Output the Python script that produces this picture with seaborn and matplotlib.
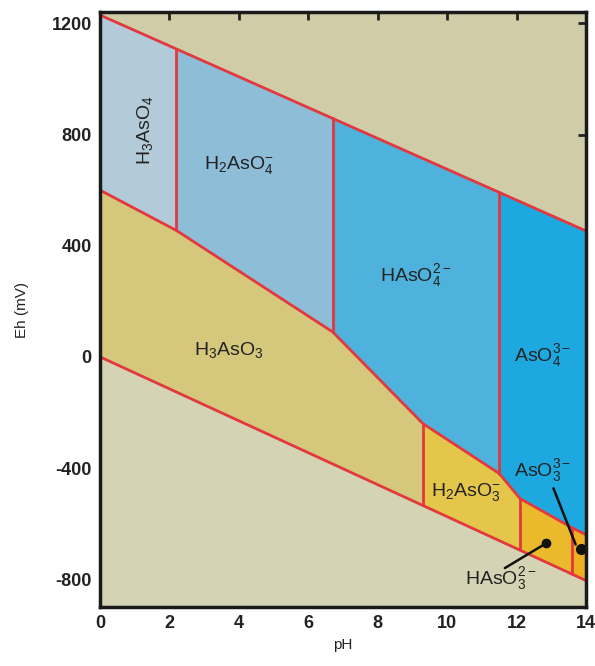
import numpy as np
import pandas as pd
import matplotlib
matplotlib.use("Agg")
import matplotlib.pyplot as plt
import seaborn as sns

# ---- data ----
ph_upper = [0.0, 14.0]
eh_upper = [1230.0, 453.0]          # O2/H2O line (mV)
ph_lower = [0.0, 14.0]
eh_lower = [0.0, -805.0]            # H2O/H2 line (mV)
ph_redox = [0.0, 2.2, 6.7, 9.3, 11.5, 12.1, 13.6, 14.0]
eh_redox = [600.0, 455.0, 90.0, -240.0, -420.0, -510.0, -615.0, -640.0]
as5_bounds = [0.0, 2.2, 6.7, 11.5, 14.0]
as5_species = ["H$_3$AsO$_4$", "H$_2$AsO$_4^{-}$", "HAsO$_4^{2-}$", "AsO$_4^{3-}$"]
as3_bounds = [0.0, 9.3, 12.1, 13.6, 14.0]
as3_species = ["H$_3$AsO$_3$", "H$_2$AsO$_3^{-}$", "HAsO$_3^{2-}$", "AsO$_3^{3-}$"]
xticks = [0, 2, 4, 6, 8, 10, 12, 14]
yticks = [-800, -400, 0, 400, 800, 1200]

as5_colors = ["#b3cbd8", "#8ebdd8", "#4eb2dd", "#1ea8e0"]
as3_colors = ["#d5c77c", "#e4c74a", "#ebba2c", "#eeb020"]
bg_top = "#cfcca7"
bg_bottom = "#d4d3b4"
red = "#e2383e"

sns.set_theme(style="ticks")
plt.rcParams["font.family"] = ["Liberation Sans", "DejaVu Sans"]
plt.rcParams["mathtext.fontset"] = "custom"
plt.rcParams["mathtext.rm"] = "Liberation Sans"
plt.rcParams["mathtext.it"] = "Liberation Sans"
plt.rcParams["mathtext.bf"] = "Liberation Sans:bold"
plt.rcParams["axes.unicode_minus"] = False

fig = plt.figure(figsize=(5.95, 6.66), dpi=100)
ax = fig.add_axes([0.168, 0.0886, 0.817, 0.893])
ax.set_facecolor(bg_top)


def seg(xs, ys, a, b):
    xs = np.asarray(xs); ys = np.asarray(ys)
    inner = [(x, y) for x, y in zip(xs, ys) if a < x < b]
    return [(a, np.interp(a, xs, ys))] + inner + [(b, np.interp(b, xs, ys))]

# lower (below water) region
low = seg(ph_lower, eh_lower, 0, 14)
poly = low + [(14, -1000), (0, -1000)]
ax.fill(*zip(*poly), color=bg_bottom, lw=0, zorder=1)

for i in range(4):
    a, b = as5_bounds[i], as5_bounds[i + 1]
    poly = seg(ph_upper, eh_upper, a, b) + seg(ph_redox, eh_redox, a, b)[::-1]
    ax.fill(*zip(*poly), facecolor=as5_colors[i], edgecolor=as5_colors[i], lw=0.5, zorder=2)
    a, b = as3_bounds[i], as3_bounds[i + 1]
    poly = seg(ph_redox, eh_redox, a, b) + seg(ph_lower, eh_lower, a, b)[::-1]
    ax.fill(*zip(*poly), facecolor=as3_colors[i], edgecolor=as3_colors[i], lw=0.5, zorder=2)

lw = 2.0
kw = dict(ax=ax, color=red, lw=lw, sort=False, estimator=None, zorder=4)
for xs, ys in [(ph_upper, eh_upper), (ph_lower, eh_lower), (ph_redox, eh_redox)]:
    sns.lineplot(x=xs, y=ys, **kw)
for p in as5_bounds[1:-1]:
    y0 = np.interp(p, ph_redox, eh_redox); y1 = np.interp(p, ph_upper, eh_upper)
    sns.lineplot(x=[p, p], y=[y0, y1], **kw)
for p in as3_bounds[1:-1]:
    y0 = np.interp(p, ph_lower, eh_lower); y1 = np.interp(p, ph_redox, eh_redox)
    sns.lineplot(x=[p, p], y=[y0, y1], **kw)

tc = "#222222"
fs = 14
ax.text(1.29, 815, as5_species[0], rotation=90, ha="center", va="center", fontsize=fs, color=tc, zorder=5)
ax.text(4.0, 689, as5_species[1], ha="center", va="center", fontsize=fs, color=tc, zorder=5)
ax.text(9.1, 294, as5_species[2], ha="center", va="center", fontsize=fs, color=tc, zorder=5)
ax.text(12.75, 6, as5_species[3], ha="center", va="center", fontsize=fs, color=tc, zorder=5)
ax.text(3.7, 24, as3_species[0], ha="center", va="center", fontsize=fs, color=tc, zorder=5)
ax.text(10.55, -487, as3_species[1], ha="center", va="center", fontsize=fs, color=tc, zorder=5)
ax.text(11.55, -796, as3_species[2], ha="center", va="center", fontsize=fs, color=tc, zorder=5)
ax.text(12.75, -410, as3_species[3], ha="center", va="center", fontsize=fs, color=tc, zorder=5)

# leader lines with dots
ax.plot([11.66, 12.86], [-760, -670], color="#111111", lw=1.8, zorder=6)
ax.plot([12.86], [-670], "o", color="#111111", ms=6, zorder=6)
ax.plot([13.06, 13.7], [-473, -675], color="#111111", lw=1.8, zorder=6)
ax.plot([13.85], [-690], "o", color="#111111", ms=7, zorder=6, clip_on=False)

ax.set_xlim(0, 14)
ax.set_ylim(-900, 1240)
ax.set_xticks(xticks)
ax.set_yticks(yticks)
ax.set_xticklabels([str(t) for t in xticks], fontsize=13, fontweight="bold", color=tc)
ax.set_yticklabels([str(t) for t in yticks], fontsize=13, fontweight="bold", color=tc)
ax.tick_params(direction="in", length=6, width=2, top=True, right=True, pad=6, colors="#222222")
for s in ax.spines.values():
    s.set_linewidth(2.5)
    s.set_color("#1a1a1a")
    s.set_zorder(7)
ax.set_xlabel("pH", fontsize=11, color=tc, labelpad=4)
ax.set_ylabel("Eh (mV)", fontsize=11, color=tc, labelpad=16)

fig.savefig("out.png", dpi=100)
